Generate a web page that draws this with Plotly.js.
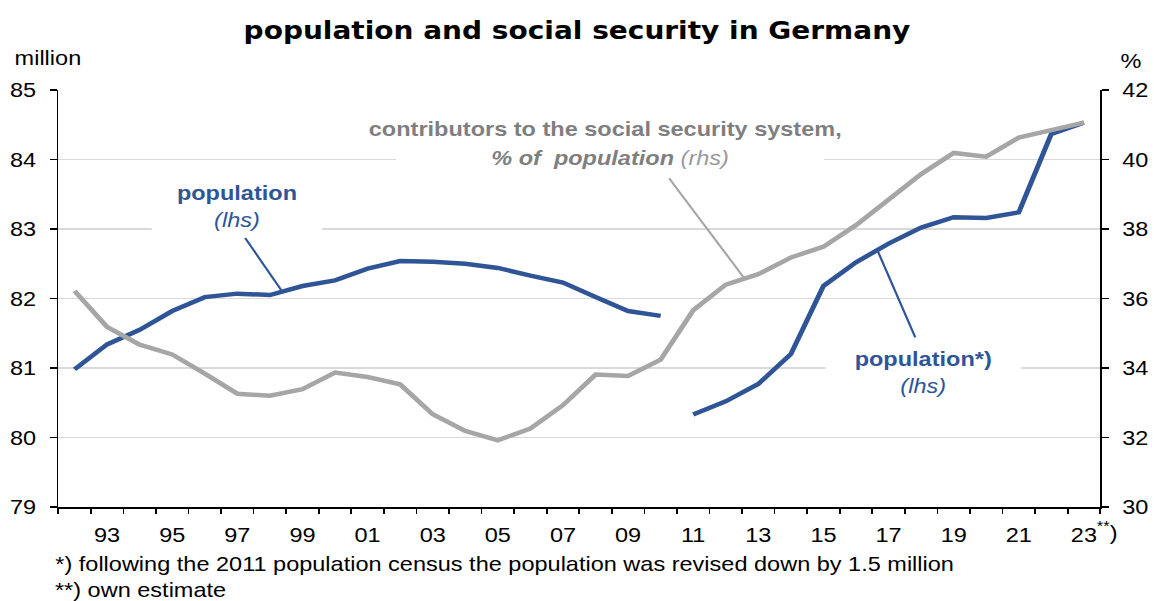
<!DOCTYPE html>
<html><head><meta charset="utf-8">
<script src="https://cdn.plot.ly/plotly-3.0.1.min.js"></script>
<style>
html,body{margin:0;padding:0;background:#fff;overflow:hidden;}
#chart{width:1030px;height:601px;transform:scaleX(1.12039);transform-origin:0 0;}
</style></head><body><div id="chart"></div>
<script>
// years of the old population series (lhs)
const yearsOld = [1992,1993,1994,1995,1996,1997,1998,1999,2000,2001,2002,2003,2004,2005,2006,2007,2008,2009,2010];
const populationOld = [80.98,81.34,81.55,81.82,82.02,82.07,82.05,82.18,82.26,82.43,82.54,82.53,82.50,82.44,82.33,82.23,82.02,81.82,81.75];
// revised population after the 2011 census (lhs)
const yearsNew = [2011,2012,2013,2014,2015,2016,2017,2018,2019,2020,2021,2022,2023];
const populationNew = [80.33,80.52,80.77,81.20,82.18,82.52,82.79,83.02,83.17,83.16,83.24,84.37,84.53];
// contributors to the social security system, % of population (rhs)
const yearsAll = [1992,1993,1994,1995,1996,1997,1998,1999,2000,2001,2002,2003,2004,2005,2006,2007,2008,2009,2010,2011,2012,2013,2014,2015,2016,2017,2018,2019,2020,2021,2022,2023];
const contributorsShare = [36.22,35.18,34.67,34.39,33.84,33.26,33.20,33.39,33.87,33.74,33.53,32.67,32.19,31.92,32.26,32.93,33.81,33.77,34.24,35.66,36.40,36.70,37.18,37.49,38.11,38.83,39.58,40.19,40.08,40.63,40.83,41.06];
// x tick labels
const xTickVals = [1993,1995,1997,1999,2001,2003,2005,2007,2009,2011,2013,2015,2017,2019,2021,2023];
const xTickText = ['93','95','97','99','01','03','05','07','09','11','13','15','17','19','21','23'];

const BLUE = '#2F5597';
const GREY = '#A6A6A6';
const FONT = 'Liberation Sans, Arial, sans-serif';

const traces = [
  {x: yearsAll, y: contributorsShare, yaxis: 'y2', type: 'scatter', mode: 'lines',
   line: {color: GREY, width: 4.5}, hoverinfo: 'skip'},
  {x: yearsOld, y: populationOld, type: 'scatter', mode: 'lines',
   line: {color: BLUE, width: 4.5}, hoverinfo: 'skip'},
  {x: yearsNew, y: populationNew, type: 'scatter', mode: 'lines',
   line: {color: BLUE, width: 4.5}, hoverinfo: 'skip'}
];

const tickFont = {family: FONT, size: 21, color: '#000'};

const layout = {
  width: 1030, height: 601,
  margin: {l: 52, r: 48, t: 90, b: 94},
  paper_bgcolor: '#fff', plot_bgcolor: '#fff',
  showlegend: false,
  title: {text: '<b>population and social security in Germany</b>',
          font: {family: 'DejaVu Sans, Verdana, sans-serif', size: 25, color: '#000'},
          x: 0.5, xanchor: 'center', xref: 'container', y: 0.95, yanchor: 'middle', yref: 'container'},
  xaxis: {range: [1991.5, 2023.5], tickmode: 'array', tickvals: xTickVals, ticktext: xTickText,
          ticks: '', showline: true, linecolor: '#000', linewidth: 1.5, showgrid: false, zeroline: false,
          tickfont: tickFont, ticklabelstandoff: 8,
          minor: {ticks: 'outside', tick0: 1991.5, dtick: 1, ticklen: 5, tickwidth: 1.5, tickcolor: '#000', showgrid: false}},
  yaxis: {range: [79, 85], tick0: 79, dtick: 1, ticks: 'outside', ticklen: 6, tickwidth: 1.5, tickcolor: '#000',
          showline: true, linecolor: '#000', linewidth: 1.5, showgrid: true, gridcolor: '#d9d9d9', gridwidth: 1.5,
          zeroline: false, tickfont: tickFont, ticklabelstandoff: 8},
  yaxis2: {range: [30, 42], tick0: 30, dtick: 2, overlaying: 'y', side: 'right', ticks: 'outside', ticklen: 6,
           tickwidth: 1.5, tickcolor: '#000', showline: true, linecolor: '#000', linewidth: 1.5,
           showgrid: false, zeroline: false, tickfont: tickFont, ticklabelstandoff: 8},
  shapes: [
    {type: 'line', xref: 'x', yref: 'y', x0: 1997.24, y0: 82.87, x1: 1998.35, y1: 82.12, line: {color: BLUE, width: 2}},
    {type: 'line', xref: 'x', yref: 'y', x0: 2010.26, y0: 83.73, x1: 2012.54, y1: 82.31, line: {color: GREY, width: 2}},
    {type: 'line', xref: 'x', yref: 'y', x0: 2017.82, y0: 81.44, x1: 2016.68, y1: 82.67, line: {color: BLUE, width: 2}}
  ],
  annotations: [
    {xref: 'x', yref: 'y', x: 1996.98, y: 83.33, showarrow: false, bgcolor: '#fff', width: 149, align: 'center',
     text: '<b>population</b><br><i>(lhs)</i>', font: {family: FONT, size: 21, color: BLUE}},
    {xref: 'x', yref: 'y', x: 2008.45, y: 84.03, showarrow: false, bgcolor: '#fff', width: 379, align: 'center',
     text: '<b><i>% of &nbsp;population</i></b><span style="color:#999999"><i> (rhs)</i></span>',
     font: {family: FONT, size: 21, color: '#7F7F7F'}},
    {xref: 'x', yref: 'y', x: 2008.29, y: 84.45, showarrow: false,
     text: '<b>contributors to the social security system,</b>',
     font: {family: FONT, size: 21, color: '#7F7F7F'}},
    {xref: 'x', yref: 'y', x: 2018.06, y: 80.94, showarrow: false, bgcolor: '#fff', width: 172, align: 'center',
     text: '<b>population*)</b><br><i>(lhs)</i>', font: {family: FONT, size: 21, color: BLUE}},
    {xref: 'x', yref: 'paper', x: 2023, xshift: 10, y: -0.058, xanchor: 'left', yanchor: 'middle', showarrow: false,
     text: '<sup>**</sup>)', font: {family: FONT, size: 21, color: '#000'}},
    {xref: 'paper', yref: 'paper', x: -0.0058, y: -0.135, xanchor: 'left', yanchor: 'middle', showarrow: false,
     text: '*) following the 2011 population census the population was revised down by 1.5 million',
     font: {family: FONT, size: 21, color: '#000'}},
    {xref: 'paper', yref: 'paper', x: -0.0058, y: -0.197, xanchor: 'left', yanchor: 'middle', showarrow: false,
     text: '**) own estimate', font: {family: FONT, size: 21, color: '#000'}},
    {xref: 'paper', yref: 'paper', x: -0.0442, y: 1.077, xanchor: 'left', yanchor: 'middle', showarrow: false,
     text: 'million', font: {family: FONT, size: 21, color: '#000'}},
    {xref: 'paper', yref: 'paper', x: 1.0298, y: 1.0703, xanchor: 'center', yanchor: 'middle', showarrow: false,
     text: '%', font: {family: FONT, size: 21, color: '#000'}}
  ]
};

Plotly.newPlot('chart', traces, layout, {staticPlot: true, displayModeBar: false});
</script></body></html>
